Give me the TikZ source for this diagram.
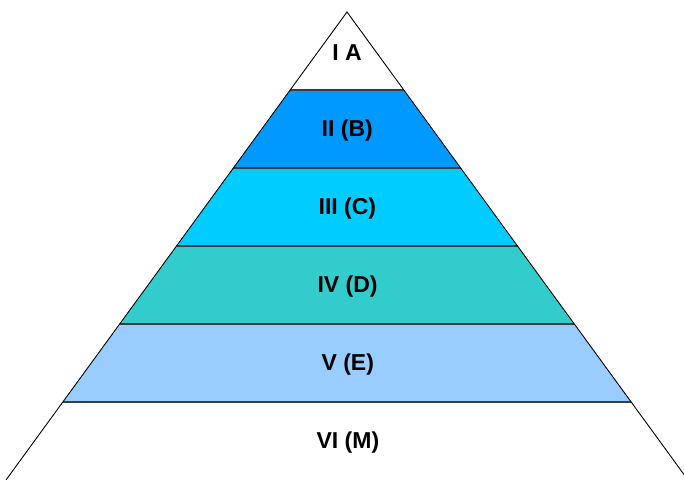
\documentclass[tikz,border=0pt]{standalone}
\usepackage{fontspec}
\setmainfont{Liberation Sans}
\usetikzlibrary{calc}
\definecolor{layerB}{RGB}{0,153,255}
\definecolor{layerC}{RGB}{0,204,255}
\definecolor{layerD}{RGB}{51,204,204}
\definecolor{layerE}{RGB}{153,204,255}
\definecolor{cutgray}{RGB}{60,60,60}

\begin{document}
\begin{tikzpicture}[x=1pt,y=-1pt,
  cut/.style={draw=cutgray,line width=1.6pt},
  side/.style={draw=black,line width=0.9pt},
  tag/.style={font=\fontsize{23}{27}\selectfont\bfseries,inner sep=0pt,yshift=-2pt}]
  \useasboundingbox[fill=white] (0,0) rectangle (684,479);
  \coordinate (apex) at (347,12);
  \coordinate (bl) at (6,480);
  \coordinate (br) at (688,480);
  \coordinate (bm) at (348,480);
  % the six layers
  \foreach \i/\j/\col/\txt in {0/1/white/I A,1/2/layerB/II (B),2/3/layerC/III (C),
      3/4/layerD/IV (D),4/5/layerE/V (E),5/6/white/VI (M)}{
    \fill[\col] ($(apex)!\i/6!(bl)$) -- ($(apex)!\j/6!(bl)$)
      -- ($(apex)!\j/6!(br)$) -- ($(apex)!\i/6!(br)$) -- cycle;
    \node[tag] (lvl\j) at ($(apex)!{(\i+\j)/12}!(bm)$) {\txt};
  }
  \foreach \j in {1,...,5}
    \draw[cut] ($(apex)!\j/6!(bl)$) -- ($(apex)!\j/6!(br)$);
  \draw[side] (bl) -- (apex) -- (br);
\end{tikzpicture}
\end{document}
